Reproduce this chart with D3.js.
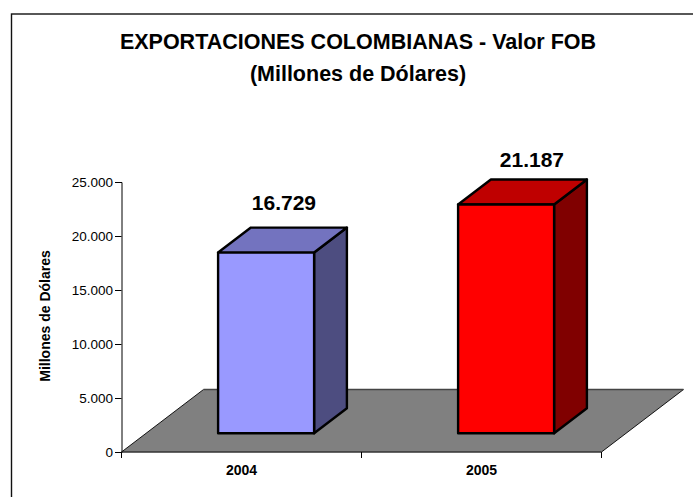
<!DOCTYPE html>
<html>
<head>
<meta charset="utf-8">
<script src="https://cdn.jsdelivr.net/npm/d3@7/dist/d3.min.js"></script>
<style>
html,body{margin:0;padding:0;background:#fff}
svg{display:block}
text{font-family:"Liberation Sans",Arial,sans-serif;fill:#000}
</style>
</head>
<body>
<div id="chart"></div>
<script>
const categories = ["2004", "2005"];
const values = [16729, 21187];
const valueLabels = ["16.729", "21.187"];
const yTicks = [0, 5000, 10000, 15000, 20000, 25000];
const titleLines = ["EXPORTACIONES COLOMBIANAS - Valor FOB", "(Millones de Dólares)"];
const yTitle = "Millones de Dólares";
const frontColors = ["#9999ff", "#ff0000"];
const topColors = ["#7373bf", "#bf0000"];
const sideColors = ["#4d4d80", "#800000"];

const W = 693, H = 497;
const svg = d3.select("#chart").append("svg").attr("width", W).attr("height", H);

const y = d3.scaleLinear().domain([0, 25000]).range([452, 182]);
const x = d3.scaleBand().domain(categories).range([121.5, 601.5]).paddingInner(0.6).paddingOuter(0.3);
const band = d3.scaleBand().domain(categories).range([121.5, 601.5]);
// depth projection: 0 = front of floor, 1 = back of floor
const dz = d3.scaleLinear().domain([0, 1]).range([0, 82]);
const dy = d3.scaleLinear().domain([0, 1]).range([0, -62.5]);
const P = (px, py, z) => [px + dz(z), py + dy(z)];
const poly = pts => "M" + pts.map(p => p.join(",")).join("L") + "Z";

// frame
svg.append("rect").attr("x", 11.5).attr("y", 14).attr("width", W + 20).attr("height", H + 20)
  .attr("fill", "#fff").attr("stroke", "#111").attr("stroke-width", 1.4);

// floor
const [x0, x1] = x.range();
svg.append("path")
  .attr("d", poly([P(x0, y(0), 0), P(x1, y(0), 0), P(x1, y(0), 1), P(x0, y(0), 1)]))
  .attr("fill", "#808080").attr("stroke", "none");
svg.append("path").attr("d", `M${P(x0,y(0),0)}L${P(x0,y(0),1)}`).attr("fill", "none").attr("stroke", "#000").attr("stroke-width", 0.9);
svg.append("path").attr("d", `M${P(x1,y(0),0)}L${P(x1,y(0),1)}`).attr("fill", "none").attr("stroke", "#000").attr("stroke-width", 0.9);
svg.append("path").attr("d", `M${P(x0,y(0),1)}L${P(x1,y(0),1)}`).attr("stroke", "#444").attr("stroke-width", 1.6);
svg.append("path").attr("d", `M${P(x0,y(0),0)}L${P(x1,y(0),0)}`).attr("stroke", "#333").attr("stroke-width", 1.6);

// axes
const yAxis = d3.axisLeft(y).tickValues(yTicks).tickSize(6.5).tickPadding(2)
  .tickFormat(d => d3.format(",")(d).replace(/,/g, "."));
const gy = svg.append("g").attr("transform", "translate(121.5,0)").call(yAxis);
gy.selectAll("text").attr("font-size", 13.5).style("font-family", '"Liberation Sans",Arial,sans-serif');
gy.selectAll("line,path").attr("stroke", "#000");

const xAxis = d3.axisBottom(band).tickSize(0).tickPadding(13);
const gx = svg.append("g").attr("transform", "translate(0,452)").call(xAxis);
gx.select("path").remove();
gx.selectAll("text").attr("font-size", 14).attr("font-weight", "bold")
  .style("font-family", '"Liberation Sans",Arial,sans-serif');
svg.append("g").selectAll("line").data(band.domain().map(d => band(d)).concat([band.range()[1]])).join("line")
  .attr("x1", d => d).attr("x2", d => d).attr("y1", 452).attr("y2", 458).attr("stroke", "#000");

// bars
const zFront = 0.3, zBack = 0.7;
const labelNudgeX = [-15, -7], labelNudgeY = [-18, -12];
const bars = svg.append("g").selectAll("g").data(categories).join("g");
bars.each(function(c, i) {
  const g = d3.select(this);
  const l = x(c), r = l + x.bandwidth(), b = y(0), t = y(values[i]);
  const st = s => s.attr("stroke", "#000").attr("stroke-width", 2.4).attr("stroke-linejoin", "round");
  g.append("path").attr("d", poly([P(r,b,zFront),P(r,b,zBack),P(r,t,zBack),P(r,t,zFront)])).attr("fill", sideColors[i]).call(st);
  g.append("path").attr("d", poly([P(l,t,zFront),P(r,t,zFront),P(r,t,zBack),P(l,t,zBack)])).attr("fill", topColors[i]).call(st);
  g.append("path").attr("d", poly([P(l,b,zFront),P(r,b,zFront),P(r,t,zFront),P(l,t,zFront)])).attr("fill", frontColors[i]).call(st);
  const top = P((l + r) / 2, t, zBack);
  g.append("text").attr("x", top[0] + labelNudgeX[i]).attr("y", top[1] + labelNudgeY[i])
    .attr("text-anchor", "middle").attr("font-size", 21).attr("font-weight", "bold").text(valueLabels[i]);
});

// titles
svg.append("g").selectAll("text").data(titleLines).join("text")
  .attr("x", 358).attr("y", (d, i) => 49 + i * 32)
  .attr("text-anchor", "middle").attr("font-size", 21.5).attr("font-weight", "bold").text(d => d);
svg.append("text").attr("transform", "translate(50,316) rotate(-90)")
  .attr("text-anchor", "middle").attr("font-size", 14).attr("font-weight", "bold").text(yTitle);
</script>
</body>
</html>
